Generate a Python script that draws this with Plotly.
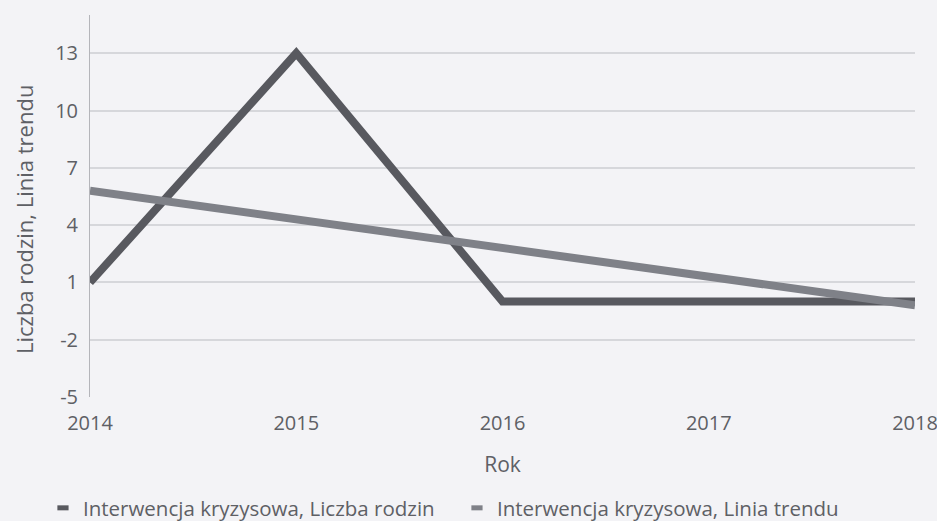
import plotly.graph_objects as go

years = [2014, 2015, 2016, 2017, 2018]
liczba_rodzin = [1, 13, 0, 0, 0]
linia_trendu = [5.8, 4.3, 2.8, 1.3, -0.2]
y_ticks = [-5, -2, 1, 4, 7, 10, 13]
y_tick_text = ["-5", "-2", "1", "4", "7", "10", "13"]
names = ["Interwencja kryzysowa, Liczba rodzin", "Interwencja kryzysowa, Linia trendu"]
colors = ["#58595f", "#7f8188"]
text_color = "#5e6065"
bg = "#f3f3f6"

fig = go.Figure()
fig.add_trace(go.Scatter(x=years, y=liczba_rodzin, mode="lines", showlegend=False,
                         line=dict(color=colors[0], width=8)))
fig.add_trace(go.Scatter(x=years, y=linia_trendu, mode="lines", showlegend=False,
                         line=dict(color=colors[1], width=8)))
for n, c in zip(names, colors):
    fig.add_trace(go.Scatter(x=[None], y=[None], mode="markers", name=n,
                             marker=dict(symbol="line-ew", size=8, color=c,
                                         line=dict(color=c, width=9))))

fig.update_layout(
    width=937, height=521,
    margin=dict(l=90, r=22, t=15, b=124, autoexpand=False),
    paper_bgcolor=bg, plot_bgcolor=bg,
    font=dict(family="Open Sans", size=20, color=text_color),
    legend=dict(orientation="h", x=-0.057, xanchor="left", y=-0.2906, yanchor="middle",
                font=dict(family="Open Sans", size=20.5, color=text_color),
                entrywidth=369, entrywidthmode="pixels",
                itemwidth=30, bgcolor="rgba(0,0,0,0)"),
    xaxis=dict(range=[2014, 2018], tickvals=years, showgrid=False, zeroline=False,
               showline=False, ticks="outside", ticklen=8, tickcolor="rgba(0,0,0,0)",
               tickfont=dict(size=20), automargin=False, ticklabeloverflow="allow",
               title=dict(text="Rok", font=dict(size=21), standoff=22)),
    yaxis=dict(range=[-5, 15], tickvals=y_ticks, ticktext=y_tick_text,
               showgrid=True, gridcolor="#d6d7db",
               gridwidth=2, zeroline=False, showline=True, linecolor="#b4b5ba", linewidth=1,
               ticks="outside", ticklen=7, tickcolor="rgba(0,0,0,0)",
               tickfont=dict(size=20), automargin=False),
    annotations=[dict(text="Liczba rodzin, Linia trendu", textangle=-90,
                      xref="paper", yref="paper", x=-0.08, y=0.4634,
                      xanchor="center", yanchor="middle", showarrow=False,
                      font=dict(size=22, color=text_color))],
)
fig.write_html("out.html", config={"displayModeBar": False},
               post_script="document.body.style.margin='0';document.body.style.overflow='hidden';document.body.style.background='#f3f3f6';")
